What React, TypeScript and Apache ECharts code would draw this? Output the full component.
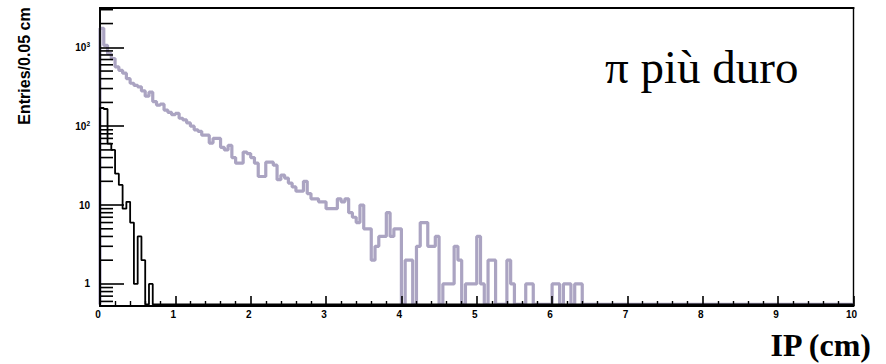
import React, { useEffect, useRef } from "react";
import * as echarts from "echarts";

// Histogram binning: 0.05 cm bins from 0 to 10 cm
const BIN_WIDTH = 0.05;
const X_MIN = 0;
const X_MAX = 10;
const N_BINS = 200;

// Pion impact parameter, entries per bin starting at 0 cm (bins past the list are empty)
const pionCounts = [
  1740, 1060, 830, 720, 565, 510, 470, 400, 350, 330,
  315, 280, 240, 270, 205, 185, 190, 160, 150, 140,
  145, 126, 120, 110, 100, 90, 86, 77, 77, 61,
  70, 70, 54, 50, 57, 40, 34, 34, 47, 45,
  40, 34, 23, 23, 35, 35, 32, 21, 24, 22,
  19, 17, 15, 15, 20, 14, 12, 12, 11, 11,
  9, 9, 9, 12, 11, 12, 8, 7, 6, 10,
  5, 5, 2, 3, 4, 4, 8, 4, 5, 5,
  0, 2, 2, 0, 3, 6, 6, 3, 3, 4,
  0, 1, 1, 1, 3, 2, 0, 1, 1, 1,
  4, 1, 0, 2, 2, 0, 0, 0, 2, 1,
  0, 0, 0, 1, 1, 0, 0, 0, 0, 0,
  1, 1, 0, 1, 1, 0, 1, 1,
];

// Second sample (black), entries per bin starting at 0 cm
const otherCounts = [170, 165, 60, 50, 25, 18, 9, 11, 6, 1, 4, 2, 0, 1];

// Log y axis range and ticks
const Y_MIN = 0.525;
const Y_MAX = 3150;
const EMPTY_LEVEL = 0.55; // where empty bins are drawn on the log scale
const yMinorTicks = [
  0.6, 0.7, 0.8, 0.9,
  2, 3, 4, 5, 6, 7, 8, 9,
  20, 30, 40, 50, 60, 70, 80, 90,
  200, 300, 400, 500, 600, 700, 800, 900,
  2000, 3000,
];

const TITLE_Y = "Entries/0.05 cm";
const TITLE_X = "IP (cm)";
const NOTE = "π più duro";

const SANS = '"Liberation Sans", Arial, Helvetica, sans-serif';
const SERIF = '"Liberation Serif", "Times New Roman", Times, serif';

// Step outline of a histogram: one point per bin low edge, drawn with step "end"
function histogramOutline(counts: number[]): [number, number][] {
  const pts: [number, number][] = [[X_MIN, EMPTY_LEVEL]];
  for (let i = 0; i < N_BINS; i++) {
    const c = i < counts.length ? counts[i] : 0;
    pts.push([X_MIN + i * BIN_WIDTH, c > 0 ? c : EMPTY_LEVEL]);
  }
  const last = counts.length >= N_BINS ? counts[N_BINS - 1] : 0;
  pts.push([X_MAX, last > 0 ? last : EMPTY_LEVEL]);
  return pts;
}

function yLabel(v: number): string {
  const l = Math.log10(v);
  const e = Math.round(l);
  if (Math.abs(l - e) > 1e-6) return "";
  if (e === 0) return "1";
  if (e === 1) return "10";
  return "10{s|" + e + "}";
}

export default function App() {
  const ref = useRef<HTMLDivElement>(null);

  useEffect(() => {
    if (!ref.current) return;
    const chart = echarts.init(ref.current, null, { renderer: "svg" });

    const option: any = {
      animation: false,
      backgroundColor: "#ffffff",
      grid: {
        left: 100,
        right: 32.5,
        top: 8,
        bottom: 58,
        show: true,
        borderColor: "#000",
        borderWidth: 1.4,
        backgroundColor: "transparent",
      },
      xAxis: [
        {
          type: "value",
          min: X_MIN,
          max: X_MAX,
          interval: 1,
          position: "bottom",
          z: 5,
          axisLine: { show: true, onZero: false, lineStyle: { color: "#000", width: 1.8 } },
          axisTick: { show: true, inside: true, length: 10, lineStyle: { color: "#000", width: 1.6 } },
          minorTick: { show: true, splitNumber: 5, length: 5, lineStyle: { color: "#000", width: 1.4 } },
          splitLine: { show: false },
          axisLabel: {
            color: "#000",
            fontFamily: SANS,
            fontWeight: "bold",
            fontSize: 10,
            margin: 3,
            padding: [0, 4, 0, 0],
          },
        },
        {
          type: "value",
          min: X_MIN,
          max: X_MAX,
          position: "top",
          z: 5,
          axisLine: { show: true, onZero: false, lineStyle: { color: "#000", width: 2.2 } },
          axisTick: { show: false },
          axisLabel: { show: false },
          splitLine: { show: false },
        },
      ],
      yAxis: {
        type: "log",
        logBase: 10,
        min: Y_MIN,
        max: Y_MAX,
        z: 5,
        axisLine: { show: true, lineStyle: { color: "#000", width: 1.8 } },
        axisTick: { show: true, inside: true, length: 24, lineStyle: { color: "#000", width: 1.6 } },
        minorTick: { show: false },
        splitLine: { show: false },
        axisLabel: {
          showMinLabel: false,
          showMaxLabel: false,
          margin: 10,
          color: "#000",
          fontFamily: SANS,
          fontWeight: "bold",
          fontSize: 10,
          lineHeight: 12,
          formatter: yLabel,
          rich: {
            s: {
              fontFamily: SANS,
              fontWeight: "bold",
              fontSize: 6.5,
              lineHeight: 7,
              verticalAlign: "top",
              color: "#000",
            },
          },
        },
      },
      series: [
        {
          type: "line",
          name: "pion",
          data: histogramOutline(pionCounts),
          step: "end",
          symbol: "none",
          showSymbol: false,
          clip: false,
          silent: true,
          z: 2,
          lineStyle: { color: "#aba4c2", width: 3.2 },
        },
        {
          type: "line",
          name: "other",
          data: histogramOutline(otherCounts),
          step: "end",
          symbol: "none",
          showSymbol: false,
          clip: false,
          silent: true,
          z: 3,
          lineStyle: { color: "#000", width: 1.8 },
        },
        {
          // minor ticks of the log axis at 2..9 times each decade
          type: "custom",
          name: "yMinorTicks",
          silent: true,
          clip: false,
          z: 6,
          data: yMinorTicks.map((v) => [X_MIN, v]),
          renderItem: (_params: any, api: any) => {
            const p = api.coord([api.value(0), api.value(1)]);
            return {
              type: "line",
              shape: { x1: p[0], y1: p[1], x2: p[0] + 13, y2: p[1] },
              style: { stroke: "#000", lineWidth: 1.6 },
            };
          },
        },
      ],
      graphic: [
        {
          type: "text",
          x: 24,
          y: 66,
          rotation: Math.PI / 2,
          style: {
            text: TITLE_Y,
            fontFamily: SANS,
            fontWeight: "bold",
            fontSize: 16,
            fill: "#000",
            align: "center",
            verticalAlign: "middle",
          },
        },
        {
          type: "text",
          x: 605,
          y: 67,
          style: {
            text: NOTE,
            fontFamily: SERIF,
            fontSize: 47,
            fill: "#000",
            align: "left",
            verticalAlign: "middle",
          },
        },
        {
          type: "text",
          x: 871,
          y: 345,
          style: {
            text: TITLE_X,
            fontFamily: SERIF,
            fontWeight: "bold",
            fontSize: 32,
            fill: "#000",
            align: "right",
            verticalAlign: "middle",
          },
        },
      ],
    };

    chart.setOption(option);
    return () => chart.dispose();
  }, []);

  return (
    <div
      ref={ref}
      style={{ position: "fixed", left: 0, top: 0, width: 886, height: 364, background: "#fff" }}
    />
  );
}
